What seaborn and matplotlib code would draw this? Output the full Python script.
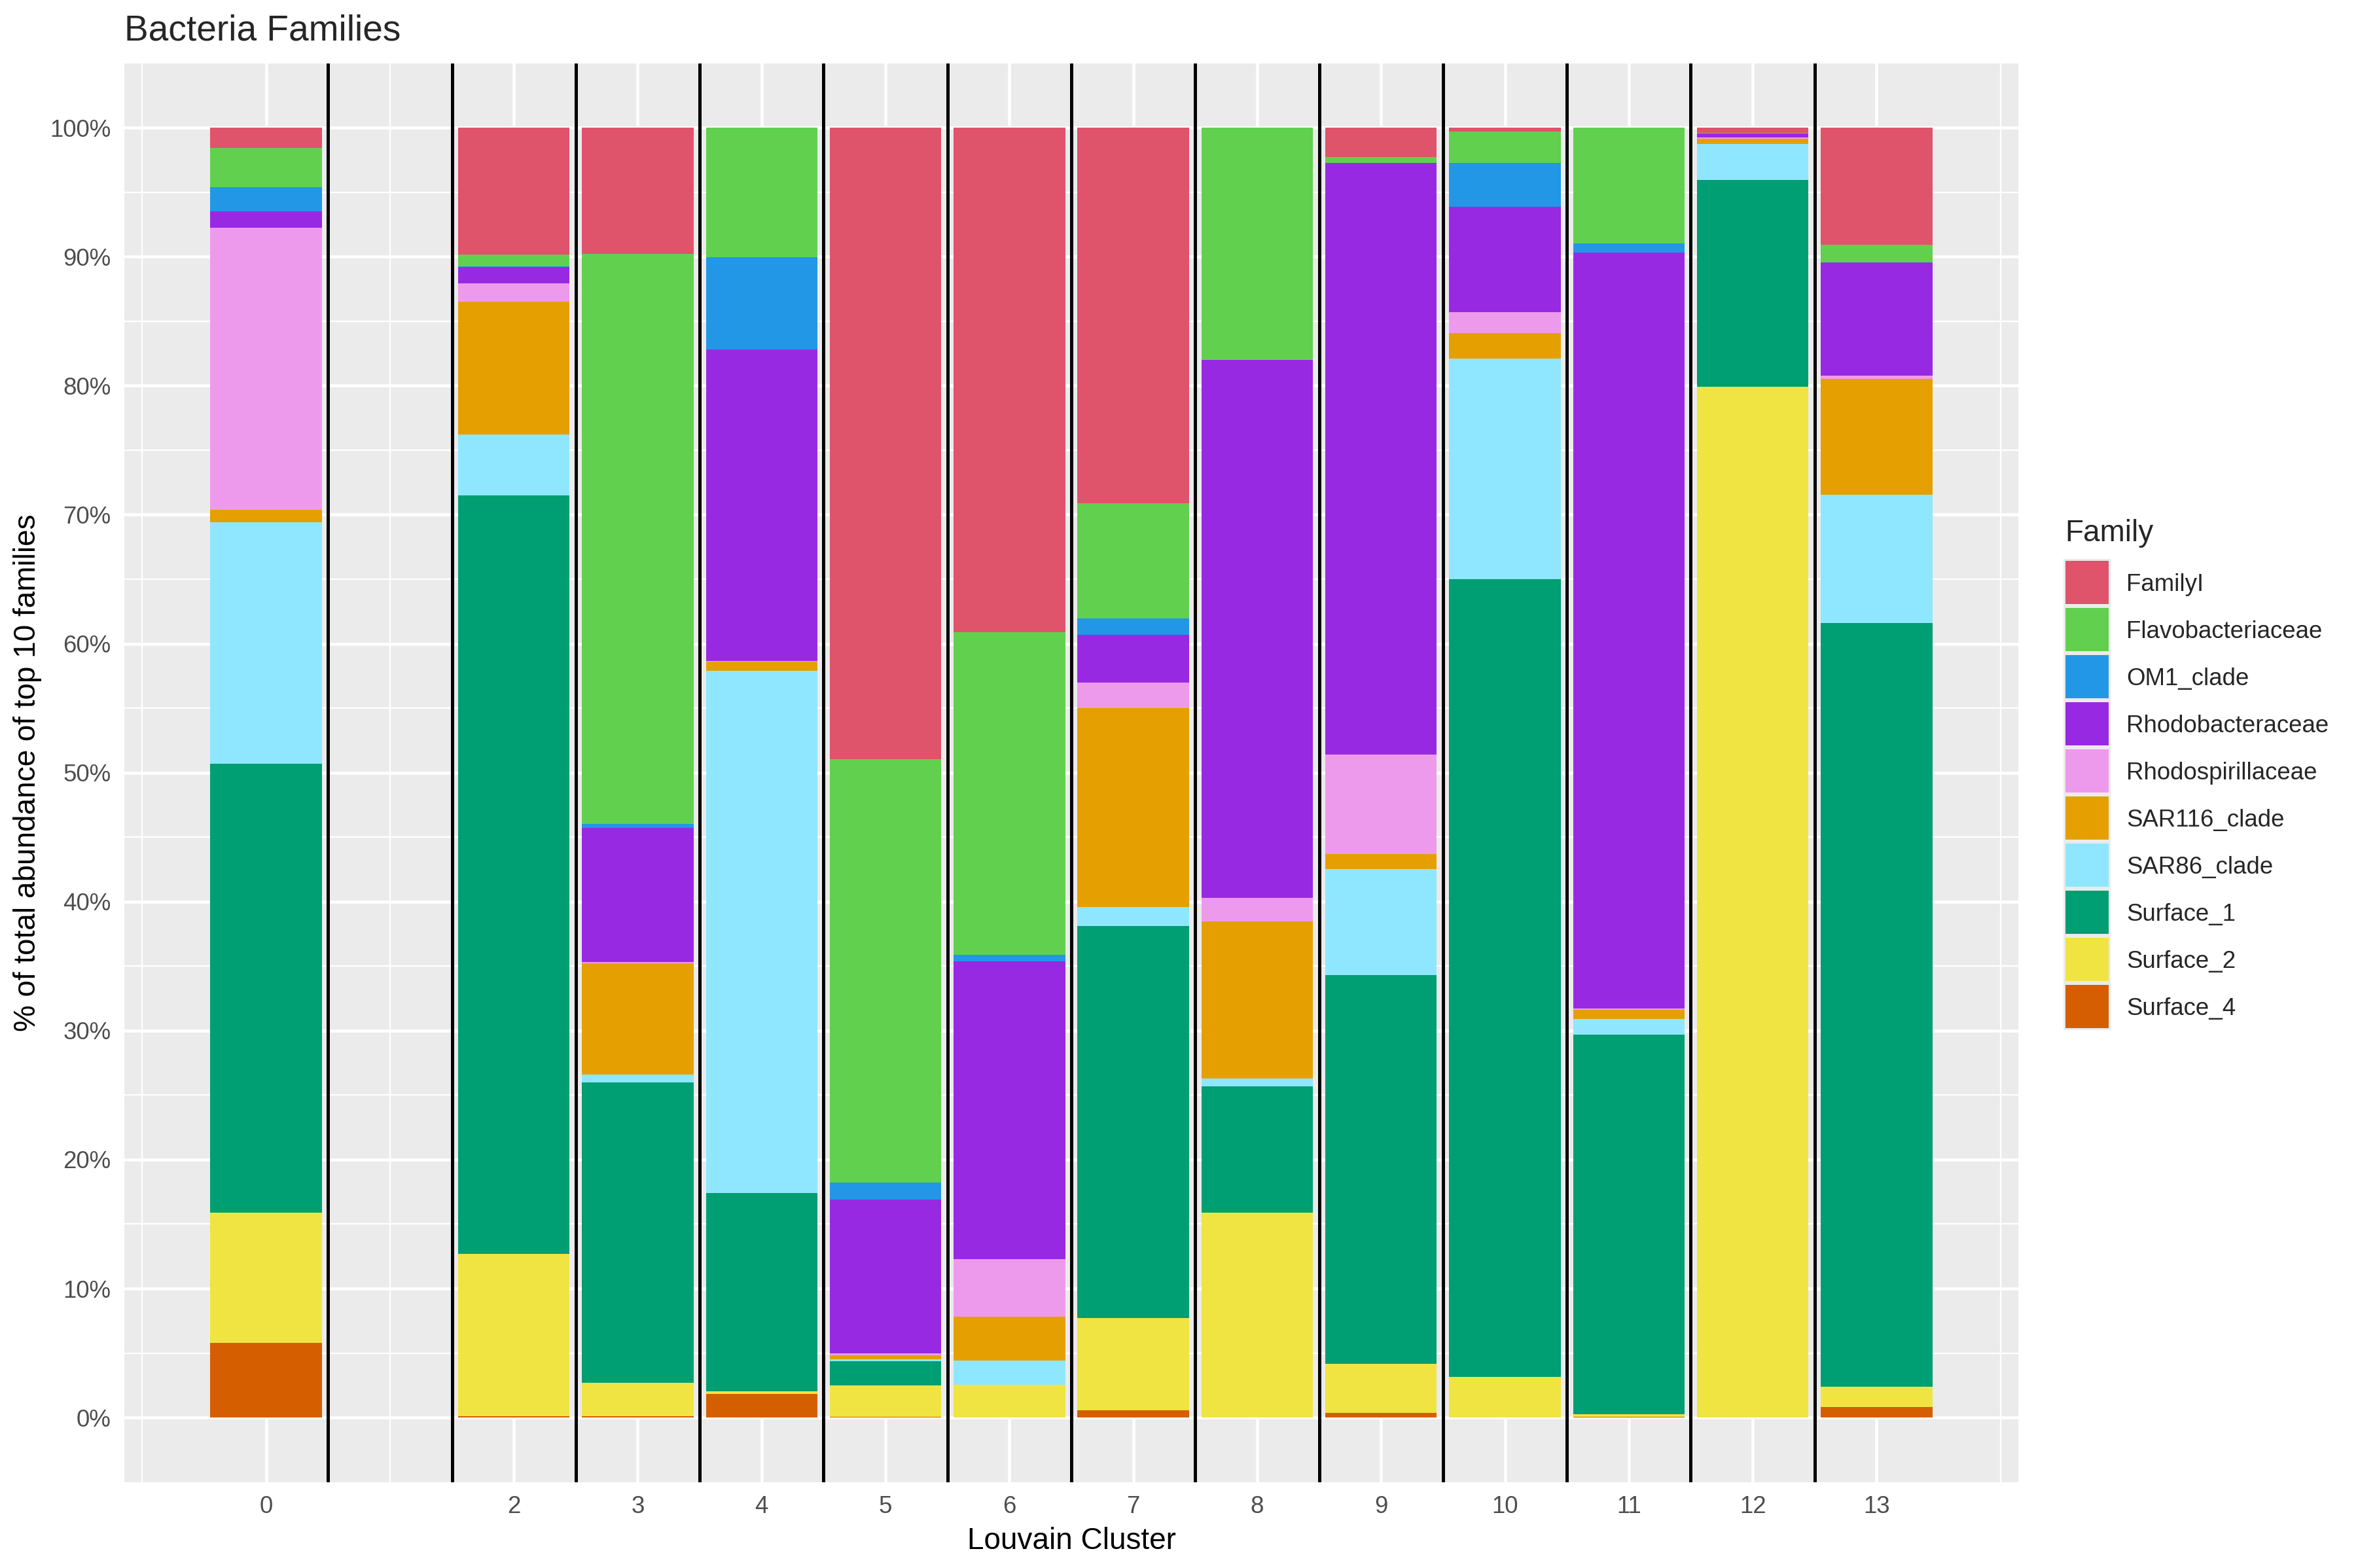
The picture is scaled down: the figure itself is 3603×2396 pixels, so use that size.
import numpy as np
import pandas as pd
import matplotlib
matplotlib.use("Agg")
import matplotlib.pyplot as plt
import seaborn as sns
from matplotlib.patches import Rectangle

# ---------------------------------------------------------------
# Data: % of top-10 family abundance per Louvain cluster
# ---------------------------------------------------------------
clusters = [0, 2, 3, 4, 5, 6, 7, 8, 9, 10, 11, 12, 13]

families = ["FamilyI", "Flavobacteriaceae", "OM1_clade", "Rhodobacteraceae",
            "Rhodospirillaceae", "SAR116_clade", "SAR86_clade",
            "Surface_1", "Surface_2", "Surface_4"]

family_i          = [1.58, 9.86, 9.80, 0.00, 48.95, 39.10, 29.10, 0.00, 2.30, 0.31, 0.00, 0.41, 9.09]
flavobacteriaceae = [3.02, 0.87, 44.20, 10.02, 32.85, 25.04, 8.93, 18.00, 0.41, 2.40, 8.99, 0.05, 1.36]
om1_clade         = [1.89, 0.07, 0.30, 7.18, 1.30, 0.49, 1.26, 0.00, 0.00, 3.42, 0.72, 0.00, 0.00]
rhodobacteraceae  = [1.28, 1.26, 10.40, 24.16, 11.93, 23.07, 3.71, 41.73, 45.89, 8.18, 58.59, 0.31, 8.75]
rhodospirillaceae = [21.83, 1.43, 0.10, 0.04, 0.15, 4.49, 2.01, 1.82, 7.70, 1.59, 0.10, 0.08, 0.28]
sar116_clade      = [1.00, 10.31, 8.60, 0.72, 0.30, 3.39, 15.43, 12.15, 1.20, 2.00, 0.70, 0.43, 9.00]
sar86_clade       = [18.70, 4.70, 0.60, 40.48, 0.15, 1.86, 1.47, 0.60, 8.20, 17.10, 1.20, 2.76, 9.92]
surface_1         = [34.80, 58.80, 23.30, 15.36, 1.87, 0.00, 30.38, 9.80, 30.13, 61.85, 29.43, 16.03, 59.21]
surface_2         = [10.12, 12.60, 2.60, 0.20, 2.45, 2.56, 7.14, 15.90, 3.80, 3.15, 0.20, 79.93, 1.56]
surface_4         = [5.78, 0.10, 0.10, 1.84, 0.05, 0.00, 0.57, 0.00, 0.37, 0.00, 0.07, 0.00, 0.83]

colors = ["#DF536B", "#61D04F", "#2297E6", "#9729E3", "#EE9AEC",
          "#E69F00", "#8FE7FF", "#009E73", "#F0E442", "#D55E00"]
palette = dict(zip(families, colors))

values = [family_i, flavobacteriaceae, om1_clade, rhodobacteraceae, rhodospirillaceae,
          sar116_clade, sar86_clade, surface_1, surface_2, surface_4]

df = pd.DataFrame({fam: vals for fam, vals in zip(families, values)}, index=clusters)
df = df.div(df.sum(axis=1), axis=0) * 100   # fill to 100%
df_long = df.reset_index(names="cluster").melt(id_vars="cluster", var_name="Family", value_name="pct")

# ---------------------------------------------------------------
# Plot (ggplot grey look)
# ---------------------------------------------------------------
sns.set_theme(style="darkgrid")
plt.rcParams["font.family"] = ["Liberation Sans", "DejaVu Sans"]

W, H = 3603, 2396
fig = plt.figure(figsize=(W / 300, H / 300), dpi=300)
ax = fig.add_axes([0.0527, 0.0548, 0.8033, 0.9049])
ax.set_facecolor("#EBEBEB")

sns.histplot(data=df_long, x="cluster", weights="pct", hue="Family",
             hue_order=families, palette=palette, multiple="stack",
             discrete=True, shrink=0.9, linewidth=0, alpha=1,
             legend=False, ax=ax, zorder=2)

# black separators between clusters
for xv in np.arange(0.5, 13, 1.0):
    ax.axvline(xv, color="black", lw=1.2, zorder=3)

ax.set_xlim(-1.145, 14.145)
ax.set_ylim(-5, 105)
ax.set_xticks(clusters)
ax.set_xticklabels([str(c) for c in clusters])
ax.set_xticks([-1, 1, 14], minor=True)
ax.set_yticks(np.arange(0, 101, 10))
ax.set_yticklabels([f"{v}%" for v in range(0, 101, 10)])
ax.set_yticks(np.arange(5, 100, 10), minor=True)

ax.grid(which="major", color="white", lw=1.1, zorder=0)
ax.grid(which="minor", color="white", lw=0.55, zorder=0)
ax.set_axisbelow(True)
for sp in ax.spines.values():
    sp.set_visible(False)

ax.tick_params(axis="both", which="major", length=2.75, width=1.0, color="#333333",
               labelsize=8.8, labelcolor="#4D4D4D", pad=2.2)
ax.tick_params(axis="both", which="minor", length=0)

ax.set_xlabel("Louvain Cluster", fontsize=11, color="black", labelpad=3)
ax.set_ylabel("% of total abundance of top 10 families", fontsize=11, color="black", labelpad=3)
fig.text(0.0527, 1 - 62 / H, "Bacteria Families", fontsize=13.2, ha="left", va="baseline")

# ---------------------------------------------------------------
# Legend drawn ggplot-style (pixel layout in figure coords)
# ---------------------------------------------------------------
key_left, key_top, row = 3153, 854, 72
fig.text(3155 / W, 1 - 827 / H, "Family", fontsize=11, ha="left", va="baseline")
fig.add_artist(Rectangle((key_left / W, 1 - (key_top + row * len(families)) / H),
                         row / W, row * len(families) / H,
                         transform=fig.transFigure, facecolor="#EBEBEB", lw=0))
for i, fam in enumerate(families):
    top = key_top + row * i
    fig.add_artist(Rectangle(((key_left + 3) / W, 1 - (top + row - 3) / H),
                             (row - 6) / W, (row - 6) / H,
                             transform=fig.transFigure, facecolor=palette[fam], lw=0))
    fig.text(3249 / W, 1 - (top + 36 + 13) / H, fam, fontsize=8.8, ha="left", va="baseline")

fig.savefig("out.png", dpi=300)
